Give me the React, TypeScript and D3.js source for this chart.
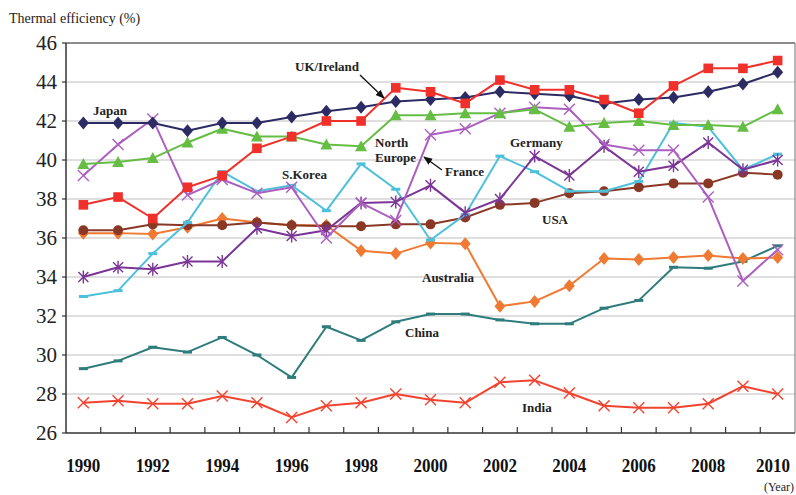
import React from "react";
import * as d3 from "d3";

const years = d3.range(1990, 2011).map(String);
const yTicks = [26, 28, 30, 32, 34, 36, 38, 40, 42, 44, 46];
const xTickLabels = ["1990", "1992", "1994", "1996", "1998", "2000", "2002", "2004", "2006", "2008", "2010"];

const japan = [41.9, 41.9, 41.9, 41.5, 41.9, 41.9, 42.2, 42.5, 42.7, 43.0, 43.1, 43.2, 43.5, 43.4, 43.3, 42.9, 43.1, 43.2, 43.5, 43.9, 44.5];
const ukIreland = [37.7, 38.1, 37.0, 38.6, 39.2, 40.6, 41.2, 42.0, 42.0, 43.7, 43.5, 42.9, 44.1, 43.6, 43.6, 43.1, 42.4, 43.8, 44.7, 44.7, 45.1];
const northEurope = [39.8, 39.9, 40.1, 40.9, 41.6, 41.2, 41.2, 40.8, 40.7, 42.3, 42.3, 42.4, 42.4, 42.6, 41.7, 41.9, 42.0, 41.8, 41.8, 41.7, 42.6];
const france = [39.2, 40.8, 42.1, 38.2, 39.0, 38.3, 38.6, 36.0, 37.8, 36.9, 41.3, 41.6, 42.4, 42.7, 42.6, 40.8, 40.5, 40.5, 38.1, 33.8, 35.4];
const germany = [34.0, 34.5, 34.4, 34.8, 34.8, 36.5, 36.1, 36.4, 37.8, 37.85, 38.7, 37.3, 38.0, 40.2, 39.2, 40.7, 39.4, 39.7, 40.9, 39.5, 40.0];
const sKorea = [33.0, 33.3, 35.2, 36.8, 39.4, 38.4, 38.7, 37.4, 39.8, 38.5, 35.9, 37.2, 40.2, 39.4, 38.4, 38.4, 38.9, 41.9, 41.7, 39.5, 40.3];
const usa = [36.4, 36.4, 36.7, 36.65, 36.65, 36.8, 36.65, 36.6, 36.6, 36.7, 36.7, 37.05, 37.7, 37.8, 38.3, 38.4, 38.6, 38.8, 38.8, 39.35, 39.25];
const australia = [36.25, 36.25, 36.2, 36.55, 37.0, 36.8, 36.65, 36.65, 35.35, 35.2, 35.75, 35.7, 32.5, 32.75, 33.55, 34.95, 34.9, 35.0, 35.1, 34.95, 35.0];
const china = [29.3, 29.7, 30.4, 30.15, 30.9, 30.0, 28.85, 31.45, 30.75, 31.7, 32.1, 32.1, 31.8, 31.6, 31.6, 32.4, 32.8, 34.5, 34.45, 34.8, 35.6];
const india = [27.55, 27.65, 27.5, 27.5, 27.9, 27.55, 26.8, 27.4, 27.55, 28.0, 27.7, 27.55, 28.6, 28.7, 28.05, 27.4, 27.3, 27.3, 27.5, 28.4, 28.0];

type Marker = "diamond" | "square" | "triangle" | "circle" | "x" | "asterisk" | "dash";
const seriesList: { name: string; values: number[]; color: string; marker: Marker }[] = [
  { name: "India", values: india, color: "#f2432f", marker: "x" },
  { name: "China", values: china, color: "#2f7c7c", marker: "dash" },
  { name: "Australia", values: australia, color: "#f07a32", marker: "diamond" },
  { name: "USA", values: usa, color: "#8a3826", marker: "circle" },
  { name: "S.Korea", values: sKorea, color: "#4dc1dc", marker: "dash" },
  { name: "Germany", values: germany, color: "#7a3596", marker: "asterisk" },
  { name: "France", values: france, color: "#ac5fc0", marker: "x" },
  { name: "North Europe", values: northEurope, color: "#66bd44", marker: "triangle" },
  { name: "Japan", values: japan, color: "#2c2b64", marker: "diamond" },
  { name: "UK/Ireland", values: ukIreland, color: "#f0302a", marker: "square" },
];

const W = 796, H = 495;
const L = 66, R = 795, T = 43, B = 433;

function MarkerShape({ type, x, y, color }: { type: Marker; x: number; y: number; color: string }) {
  const t = `translate(${x},${y})`;
  switch (type) {
    case "diamond":
      return <path transform={t} d="M0,-6.5L5.5,0L0,6.5L-5.5,0Z" fill={color} />;
    case "square":
      return <rect x={x - 4.8} y={y - 4.8} width={9.6} height={9.6} fill={color} />;
    case "triangle":
      return <path transform={t} d="M0,-6L6,5L-6,5Z" fill={color} />;
    case "circle":
      return <circle cx={x} cy={y} r={5} fill={color} />;
    case "x":
      return <path transform={t} d="M-5.5,-5.5L5.5,5.5M-5.5,5.5L5.5,-5.5" stroke={color} strokeWidth={1.4} fill="none" />;
    case "asterisk":
      return <path transform={t} d="M-5,-5L5,5M-5,5L5,-5M0,-6.5L0,6.5" stroke={color} strokeWidth={1.4} fill="none" />;
    case "dash":
      return <path transform={t} d="M-4.5,0L4.5,0" stroke={color} strokeWidth={3} fill="none" />;
  }
  return null;
}

const labels: { text: string[]; x: number; y: number }[] = [
  { text: ["Japan"], x: 93, y: 115 },
  { text: ["UK/Ireland"], x: 295, y: 71 },
  { text: ["North", "Europe"], x: 375, y: 147 },
  { text: ["France"], x: 445, y: 176 },
  { text: ["S.Korea"], x: 282, y: 179 },
  { text: ["Germany"], x: 510, y: 147 },
  { text: ["USA"], x: 542, y: 224 },
  { text: ["Australia"], x: 422, y: 282 },
  { text: ["China"], x: 405, y: 337 },
  { text: ["India"], x: 522, y: 412 },
];

const arrows = [
  { x1: 360, y1: 75, x2: 384, y2: 98 },
  { x1: 442, y1: 170, x2: 424, y2: 157 },
];

export default function App() {
  const x = d3.scaleBand<string>().domain(years).range([L, R]).padding(0);
  const bw = x.bandwidth();
  const cx = (i: number) => (x(years[i]) as number) + bw / 2;
  const y = d3.scaleLinear().domain([26, 46]).range([B, T]);
  const line = d3
    .line<number>()
    .x((_, i) => cx(i))
    .y((v) => y(v));

  return (
    <svg width={W} height={H} style={{ position: "absolute", left: 0, top: 0, background: "#fff" }}>
      <defs>
        <marker id="ah" viewBox="0 0 10 10" refX="9" refY="5" markerWidth="7" markerHeight="7" orient="auto">
          <path d="M0,1L10,5L0,9Z" fill="#111" />
        </marker>
      </defs>
      <rect width={W} height={H} fill="#fff" />
      <text x={9} y={23} fontFamily="Liberation Serif" fontSize={14} fill="#222">
        Thermal efficiency (%)
      </text>
      {yTicks.slice(1, -1).map((v) => (
        <line key={v} x1={L} x2={R} y1={y(v)} y2={y(v)} stroke="#d4d4d4" strokeWidth={1.5} />
      ))}
      <line x1={L} x2={R} y1={T} y2={T} stroke="#666" strokeWidth={1.5} />
      <line x1={R} x2={R} y1={T} y2={B} stroke="#888" strokeWidth={1.2} />
      <line x1={L} x2={L} y1={T} y2={B} stroke="#333" strokeWidth={1.5} />
      <line x1={L} x2={R} y1={B} y2={B} stroke="#333" strokeWidth={1.5} />
      {yTicks.map((v) => (
        <g key={v}>
          <line x1={L - 4} x2={L} y1={y(v)} y2={y(v)} stroke="#333" strokeWidth={1.2} />
          <text x={57} y={y(v)} dy="0.35em" textAnchor="end" fontFamily="Liberation Serif" fontSize={21} fill="#222">
            {v}
          </text>
        </g>
      ))}
      {years.slice(1).map((yr) => (
        <line key={yr} x1={x(yr)} x2={x(yr)} y1={B} y2={B - 6} stroke="#333" strokeWidth={1.2} />
      ))}
      {xTickLabels.map((yr) => (
        <text
          key={yr}
          x={Math.min((x(yr) as number) + bw / 2, 773)}
          y={472}
          textAnchor="middle"
          fontFamily="Liberation Serif"
          fontWeight="bold"
          fontSize={19}
          textLength={34}
          lengthAdjust="spacingAndGlyphs"
          fill="#111"
        >
          {yr}
        </text>
      ))}
      <text x={794} y={491} textAnchor="end" fontFamily="Liberation Serif" fontSize={12} fill="#222">
        (Year)
      </text>
      {seriesList.map((s) => (
        <g key={s.name}>
          <path d={line(s.values) || ""} fill="none" stroke={s.color} strokeWidth={2} strokeLinejoin="round" />
          {s.values.map((v, i) => (
            <MarkerShape key={i} type={s.marker} x={cx(i)} y={y(v)} color={s.color} />
          ))}
        </g>
      ))}
      {labels.map((l) => (
        <text key={l.text.join()} x={l.x} y={l.y} fontFamily="Liberation Serif" fontWeight="bold" fontSize={13} fill="#222">
          {l.text.map((t, i) => (
            <tspan key={i} x={l.x} dy={i === 0 ? 0 : 15}>
              {t}
            </tspan>
          ))}
        </text>
      ))}
      {arrows.map((a, i) => (
        <line key={i} x1={a.x1} y1={a.y1} x2={a.x2} y2={a.y2} stroke="#111" strokeWidth={1.3} markerEnd="url(#ah)" />
      ))}
    </svg>
  );
}
